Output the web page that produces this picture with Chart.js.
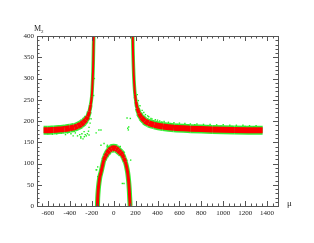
<!DOCTYPE html>
<html>
<head>
<meta charset="utf-8">
<script src="https://cdn.jsdelivr.net/npm/chart.js@4/dist/chart.umd.min.js"></script>
<style>
  html, body { margin: 0; padding: 0; background: #fff; }
  #wrap { width: 314px; height: 243px; }
</style>
</head>
<body>
<div id="wrap"><canvas id="chart" width="314" height="243"></canvas></div>
<script>
// axis ticks
const xTicks = [-600, -400, -200, 0, 200, 400, 600, 800, 1000, 1200, 1400];
const yTicks = [0, 50, 100, 150, 200, 250, 300, 350, 400];

// left upper branch
const leftMu = [-640, -600, -550, -500, -450, -400, -360, -330, -300, -275, -255, -237, -222, -210, -200, -194, -189, -186, -184, -182];
const leftM2 = [178, 178, 179, 180, 181, 183, 185, 188, 192, 197, 203, 210, 222, 238, 258, 285, 315, 345, 375, 400];

// right upper branch
const rightMu = [174, 176, 179, 183, 188, 195, 204, 216, 232, 255, 285, 320, 370, 450, 550, 700, 900, 1100, 1360];
const rightM2 = [400, 370, 340, 310, 285, 262, 245, 230, 218, 208, 200, 195, 191, 187, 184, 182, 180, 179, 178];

// lower dome
const domeMu = [-148, -146, -141, -134, -125, -115, -102, -90, -75, -60, -40, -20, 0, 20, 40, 60, 78, 92, 106, 118, 128, 136, 142, 146, 150];
const domeM2 = [0, 18, 38, 55, 70, 80, 95, 108, 117, 124, 131, 135, 136, 135, 131, 126, 121, 113, 104, 92, 78, 60, 40, 20, 0];

// scattered green points
const greenMu = [
  -600, -560, -520, -480, -440, -420, -390, -370, -350, -330, -310, -300, -290, -280, -270, -260, -250, -240, -230, -225, -215, -205, -300, -268, -225, -160, -135, -116,
  -190, -186, -180, -176, -183, 176, 180, 184, 190, 200, 215, 225, 240,
  122, 128, 134, 137, 152,
  260, 290, 320, 350, 380, 420, 460, 500, 550, 600, 650, 700, 760, 820, 880, 940, 1000, 1060, 1120, 1180, 1240, 1300,
  275, 310, 340, 400, 440, 520, 580, 680, 740, 860, 980, 1080, 1200, 1280,
  -116, -88, -57, -146, -155, -131, -161, -146, 94, 79, 155, -60, 60
];
const greenM2 = [
  170, 169, 170, 171, 168, 172, 170, 165, 172, 165, 168, 160, 170, 158, 175, 168, 165, 170, 176, 185, 195, 205, 163, 163, 167, 172, 179, 179,
  380, 340, 390, 300, 260, 390, 350, 300, 255, 235, 262, 248, 236,
  207, 183, 179, 186, 206,
  225, 215, 210, 205, 203, 200, 199, 197, 196, 195, 194, 193, 193, 192, 192, 191, 191, 190, 190, 190, 189, 189,
  220, 212, 206, 202, 198, 194, 192, 190, 191, 189, 188, 187, 187, 186,
  143, 147, 143, 92, 85, 61, 85, 69, 53, 53, 108, 140, 140
];

const pts = (xs, ys) => xs.map((x, i) => ({ x: x, y: ys[i] }));

// band of roughly constant vertical thickness: thinner where the curve is steep
function bandWidth(ctx, thick, min) {
    const dx = ctx.p1.x - ctx.p0.x, dy = ctx.p1.y - ctx.p0.y;
    const len = Math.hypot(dx, dy) || 1;
    return Math.max(min, thick * Math.sqrt(Math.abs(dx) / len));
}

// order: lower value is drawn on top
function curve(xs, ys, color, width, min, order) {
    return {
        data: pts(xs, ys),
        showLine: true,
        borderColor: color,
        borderWidth: width,
        borderJoinStyle: 'round',
        borderCapStyle: 'butt',
        pointRadius: 0,
        tension: 0.3,
        order: order,
        segment: {
            borderWidth: ctx => bandWidth(ctx, width, min)
        }
    };
}

// ROOT-like frame with inside ticks on all four sides
const frame = {
    id: 'frame',
    afterDraw(chart) {
        const ctx = chart.ctx;
        const a = chart.chartArea;
        const xs = chart.scales.x, ys = chart.scales.y;
        ctx.save();
        ctx.strokeStyle = '#555';
        ctx.lineWidth = 1;
        ctx.strokeRect(a.left + 0.5, a.top + 0.5, a.right - a.left, a.bottom - a.top);
        ctx.beginPath();
        for (let v = -700; v <= 1500; v += 50) {
            const px = Math.round(xs.getPixelForValue(v)) + 0.5;
            const len = v % 200 === 0 ? 5 : 2.5;
            ctx.moveTo(px, a.bottom); ctx.lineTo(px, a.bottom - len);
            ctx.moveTo(px, a.top); ctx.lineTo(px, a.top + len);
        }
        for (let v = 0; v <= 400; v += 10) {
            const py = Math.round(ys.getPixelForValue(v)) + 0.5;
            const len = v % 50 === 0 ? 5 : 2.5;
            ctx.moveTo(a.left, py); ctx.lineTo(a.left + len, py);
            ctx.moveTo(a.right, py); ctx.lineTo(a.right - len, py);
        }
        ctx.stroke();

        ctx.fillStyle = '#222';
        ctx.font = '7px "Liberation Serif", serif';
        ctx.textAlign = 'center';
        ctx.textBaseline = 'top';
        xTicks.forEach(v => ctx.fillText(String(v), xs.getPixelForValue(v), a.bottom + 4));
        ctx.textAlign = 'right';
        ctx.textBaseline = 'middle';
        yTicks.forEach(v => ctx.fillText(String(v), a.left - 3, ys.getPixelForValue(v)));

        ctx.font = '8px "Liberation Serif", serif';
        ctx.textAlign = 'left';
        ctx.textBaseline = 'alphabetic';
        ctx.fillText('M', 34, 31);
        ctx.font = '5px "Liberation Serif", serif';
        ctx.fillText('2', 41, 33);
        ctx.font = '9px "Liberation Serif", serif';
        ctx.fillText('μ', 287, 206);
        ctx.restore();
    }
};

new Chart(document.getElementById('chart'), {
    type: 'scatter',
    data: {
        datasets: [
            curve(leftMu, leftM2, '#ff0000', 6, 2, 1),
            curve(rightMu, rightM2, '#ff0000', 6, 2, 1),
            curve(domeMu, domeM2, '#ff0000', 6, 3, 1),
            {
                data: pts(greenMu, greenM2),
                pointStyle: 'rect',
                pointRadius: 1,
                backgroundColor: '#22ee22',
                borderWidth: 0,
                order: 2
            },
            curve(leftMu, leftM2, '#33ee33', 9, 3.5, 3),
            curve(rightMu, rightM2, '#33ee33', 9, 3.5, 3),
            curve(domeMu, domeM2, '#33ee33', 9, 5, 3)
        ]
    },
    options: {
        responsive: false,
        animation: false,
        devicePixelRatio: 1,
        layout: { padding: { left: 37, right: 36, top: 36, bottom: 37 } },
        plugins: { legend: { display: false }, tooltip: { enabled: false } },
        scales: {
            x: { type: 'linear', min: -700, max: 1500, display: false },
            y: { type: 'linear', min: 0, max: 400, display: false }
        }
    },
    plugins: [frame]
});
</script>
</body>
</html>
